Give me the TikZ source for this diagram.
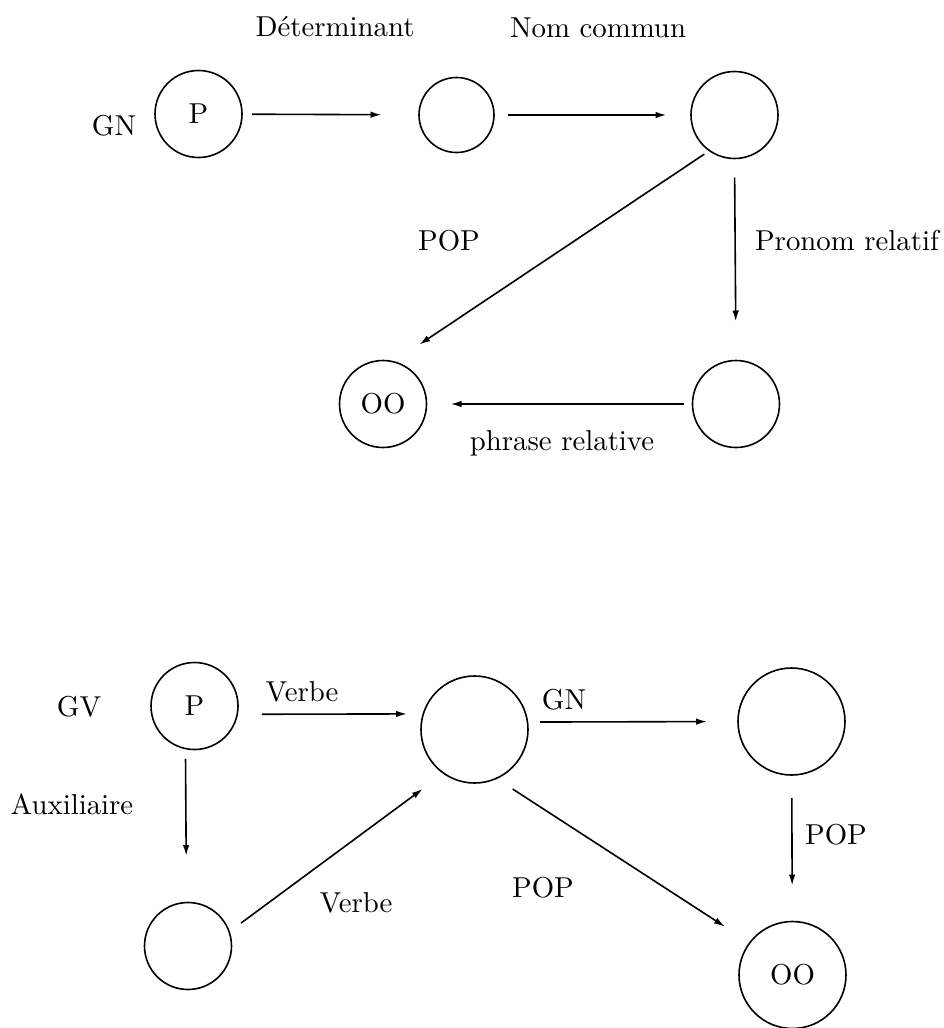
\documentclass[tikz,border=0pt]{standalone}
\usepackage{fontspec}
\setmainfont{lmroman10-regular.otf}
\usetikzlibrary{calc,arrows,arrows.meta,positioning}
\tikzstyle{state} = [draw, circle, inner sep=0pt, outer sep=0pt,
    minimum size=87pt]
\tikzstyle{sstate} = [state, minimum size=75pt]
\tikzstyle{bstate} = [state, minimum size=107pt]
\tikzstyle{lbl} = [anchor=base, inner sep=0pt]

\begin{document}
\begin{tikzpicture}[x=1pt,y=-1pt,>={Latex[length=11pt,width=6.5pt]},
    line width=1.6pt,font=\fontsize{28.8}{34}\selectfont]
\useasboundingbox (0,0) rectangle (944,1028);

% GN network
\node (gnp) [state] at (198.5,114) {P};
\node (gndet) [sstate] at (456.5,115) {};
\node (gnnom) [state] at (734.5,115) {};
\node (gnrel) [state] at (736,404) {};
\node (gnoo) [state] at (383,404) {OO};

\node (lgn) [lbl] at (114,135) {GN};
\node (ldet) [lbl] at (335,36) {Déterminant};
\node (lnom) [lbl] at (598,37) {Nom commun};
\node (lpop) [lbl] at (449,250) {POP};
\node (lpron) [lbl] at (847,250) {Pronom relatif};
\node (lphr) [lbl] at (562,450) {phrase relative};

\draw[->,shorten <=10pt,shorten >=37.5pt] (gnp) -- (gndet);
\draw[->,shorten <=13.5pt,shorten >=24.5pt] (gndet) -- (gnnom);
\draw[->,shorten <=19pt,shorten >=39pt] (gnnom.270) -- (gnrel.90);
\draw[->,shorten <=6.3pt,shorten >=31pt] (gnnom.235.6) -- (gnoo.76.3);
\draw[->,shorten <=9pt,shorten >=24pt] (gnrel) -- (gnoo);

% GV network
\node (gvp) [state] at (194.5,706) {P};
\node (gvaux) [state] at (188,946) {};
\node (gvverb) [bstate] at (474.5,729.5) {};
\node (gvgn) [bstate] at (791.5,721.5) {};
\node (gvoo) [bstate] at (792.5,975) {OO};

\node (lgv) [lbl] at (79,716) {GV};
\node (lverb) [lbl] at (302,701) {Verbe};
\node (laux) [lbl] at (72,814) {Auxiliaire};
\node (lverbb) [lbl] at (356,912) {Verbe};
\node (lgvgn) [lbl] at (564,709) {GN};
\node (lpopr) [lbl] at (836,844) {POP};
\node (lpopm) [lbl] at (543,897) {POP};

\draw[->,shorten <=24.7pt,shorten >=16.3pt] (gvp.349.4) -- (gvverb.163.2);
\draw[->,shorten <=12.5pt,shorten >=31pt] (gvverb.8) -- (gvgn.180);
\draw[->,shorten <=23pt,shorten >=36pt] (gvgn) -- (gvoo);
\draw[->,shorten <=19.6pt,shorten >=29.6pt] (gvverb.294.4) -- (gvoo.143);
\draw[->,shorten <=10.3pt,shorten >=46.5pt] (gvp.258.7) -- (gvaux.92.6);
\draw[->,shorten <=14.8pt,shorten >=26.2pt] (gvaux.19.1) -- (gvverb.235.4);

\end{tikzpicture}
\end{document}
